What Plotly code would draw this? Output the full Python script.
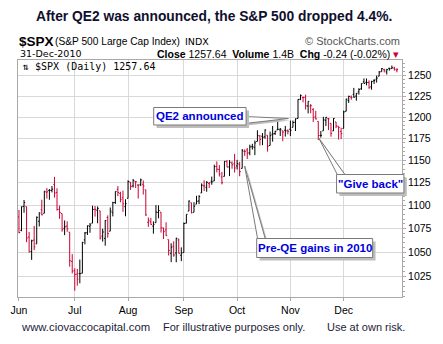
import plotly.graph_objects as go

# ---------------- data: S&P 500 daily OHLC, Jun-Dec 2010 ----------------
dates = (
    ["2010-06-%02d" % d for d in [1,2,3,4,7,8,9,10,11,14,15,16,17,18,21,22,23,24,25,28,29,30]] +
    ["2010-07-%02d" % d for d in [1,2,6,7,8,9,12,13,14,15,16,19,20,21,22,23,26,27,28,29,30]] +
    ["2010-08-%02d" % d for d in [2,3,4,5,6,9,10,11,12,13,16,17,18,19,20,23,24,25,26,27,30,31]] +
    ["2010-09-%02d" % d for d in [1,2,3,7,8,9,10,13,14,15,16,17,20,21,22,23,24,27,28,29,30]] +
    ["2010-10-%02d" % d for d in [1,4,5,6,7,8,11,12,13,14,15,18,19,20,21,22,25,26,27,28,29]] +
    ["2010-11-%02d" % d for d in [1,2,3,4,5,8,9,10,11,12,15,16,17,18,19,22,23,24,26,29,30]] +
    ["2010-12-%02d" % d for d in [1,2,3,6,7,8,9,10,13,14,15,16,17,20,21,22,23,27,28,29,30,31]]
)

opens = [
    1087.30,1073.01,1098.82,1098.43,1065.84,1050.81,1062.75,1058.77,1082.65,1095.00,1091.21,1114.02,1115.98,1116.16,1122.79,1113.90,1095.57,1090.93,1075.10,1077.50,1071.10,1040.56,
    1031.10,1027.65,1028.09,1028.54,1062.92,1070.50,1077.23,1080.65,1095.61,1094.46,1093.85,1066.85,1064.53,1086.67,1072.14,1092.17,1102.89,1117.36,1112.84,1108.07,1098.44,
    1107.53,1125.34,1121.06,1125.78,1122.07,1122.80,1122.92,1116.89,1081.48,1082.22,1077.49,1081.16,1092.08,1092.44,1075.63,1073.36,1063.20,1048.98,1056.28,1049.27,1062.90,1046.88,
    1049.72,1080.66,1093.61,1102.60,1092.36,1101.15,1104.57,1113.38,1121.16,1119.43,1123.89,1126.39,1126.57,1142.82,1139.49,1131.10,1131.69,1148.64,1142.31,1146.75,1145.97,
    1143.49,1144.96,1140.68,1159.81,1161.57,1158.36,1165.32,1164.28,1171.32,1177.82,1177.47,1176.83,1178.64,1166.74,1179.82,1180.52,1184.74,1184.88,1183.84,1184.47,1183.87,
    1185.71,1187.86,1193.79,1198.34,1221.20,1223.24,1223.59,1213.14,1213.04,1209.07,1200.44,1194.79,1178.33,1183.75,1196.12,1198.07,1192.51,1183.70,1194.16,1189.08,1182.96,
    1186.60,1206.81,1219.93,1223.87,1227.25,1225.02,1230.14,1233.85,1242.52,1241.84,1241.58,1236.34,1243.63,1245.76,1249.43,1254.94,1257.53,1254.66,1259.10,1258.78,1259.44,1256.76,
]
highs = [
    1094.77,1098.56,1105.67,1098.43,1071.36,1063.15,1077.74,1087.85,1092.25,1105.91,1115.59,1118.74,1117.72,1121.01,1131.23,1118.50,1099.64,1090.93,1083.56,1082.60,1071.10,1048.08,
    1033.58,1032.95,1042.50,1060.89,1071.25,1078.16,1080.78,1099.46,1099.08,1098.66,1093.85,1074.70,1083.94,1088.96,1097.50,1103.73,1115.01,1120.95,1114.66,1115.90,1106.44,
    1127.30,1125.44,1128.75,1126.56,1123.06,1129.24,1127.16,1116.89,1086.72,1086.25,1082.62,1100.14,1099.77,1092.44,1075.63,1081.58,1063.20,1059.38,1061.45,1065.21,1064.40,1055.14,
    1081.30,1090.10,1105.10,1102.60,1103.26,1110.27,1110.88,1123.87,1127.36,1126.46,1125.44,1131.47,1144.86,1148.59,1144.38,1136.77,1148.90,1149.92,1150.00,1148.63,1157.16,
    1150.30,1148.16,1162.76,1162.33,1163.87,1167.73,1168.68,1172.58,1184.38,1178.89,1181.20,1185.53,1178.64,1182.94,1189.43,1183.93,1196.14,1187.11,1183.84,1189.53,1185.46,
    1195.81,1195.88,1198.30,1221.25,1227.08,1224.57,1226.84,1218.75,1215.45,1210.50,1207.43,1194.79,1183.56,1200.29,1199.97,1198.94,1192.51,1198.62,1194.16,1189.08,1187.40,
    1207.61,1221.89,1225.57,1225.80,1235.05,1228.93,1234.71,1240.40,1246.73,1246.59,1244.25,1243.75,1245.81,1250.20,1255.82,1259.39,1258.59,1258.43,1259.90,1262.60,1261.09,1259.34,
]
lows = [
    1069.89,1072.03,1091.81,1060.50,1049.86,1042.17,1052.25,1058.77,1077.12,1089.03,1091.21,1107.13,1105.87,1113.93,1108.24,1094.18,1085.31,1071.60,1067.89,1071.45,1035.18,1028.33,
    1010.91,1015.93,1018.35,1028.54,1058.24,1068.10,1070.45,1080.65,1087.68,1080.53,1063.32,1061.11,1056.88,1065.25,1072.14,1087.88,1101.30,1109.78,1103.11,1092.82,1088.01,
    1107.53,1116.76,1119.46,1118.81,1107.17,1120.91,1111.58,1088.55,1076.69,1079.00,1069.49,1081.16,1085.76,1070.66,1063.91,1067.08,1046.68,1039.83,1045.40,1039.70,1048.79,1040.88,
    1049.72,1080.39,1093.61,1091.15,1092.36,1101.15,1101.15,1113.38,1115.58,1114.63,1118.88,1122.43,1126.57,1136.22,1131.58,1122.79,1131.69,1142.00,1132.09,1140.26,1136.08,
    1139.42,1131.87,1140.68,1154.85,1151.41,1155.58,1162.02,1155.71,1171.32,1166.71,1167.12,1174.55,1159.71,1166.74,1171.17,1178.99,1184.74,1177.72,1171.70,1177.10,1179.70,
    1177.65,1187.86,1183.56,1198.34,1220.29,1217.55,1208.94,1204.33,1204.49,1194.08,1197.15,1173.00,1175.82,1183.75,1189.44,1184.58,1176.91,1183.70,1186.93,1173.64,1174.14,
    1186.60,1206.81,1216.82,1220.67,1223.25,1219.50,1226.85,1232.58,1240.34,1238.17,1234.01,1232.85,1239.87,1241.51,1249.43,1254.94,1254.05,1251.48,1256.22,1258.78,1256.32,1254.19,
]
closes = [
    1070.71,1098.38,1102.83,1064.88,1050.47,1062.00,1055.69,1086.84,1091.60,1089.63,1115.23,1114.61,1116.04,1117.51,1113.20,1095.31,1092.04,1073.69,1076.76,1074.57,1041.24,1030.71,
    1027.37,1022.58,1028.06,1060.27,1070.25,1077.96,1078.75,1095.34,1095.17,1096.48,1064.88,1071.25,1083.48,1069.59,1093.67,1102.66,1115.01,1113.84,1106.13,1101.53,1101.60,
    1125.86,1120.46,1127.24,1125.81,1121.64,1127.79,1121.06,1089.47,1083.61,1079.25,1079.38,1092.54,1094.16,1075.63,1071.69,1067.36,1051.87,1055.33,1047.22,1064.59,1048.92,1049.33,
    1080.29,1090.10,1104.51,1091.84,1098.87,1104.18,1109.55,1121.90,1121.10,1125.07,1124.66,1125.59,1142.71,1139.78,1134.28,1124.83,1148.67,1142.16,1147.70,1144.73,1141.20,
    1146.24,1137.03,1160.75,1159.97,1158.06,1165.15,1165.32,1169.77,1178.10,1173.81,1176.19,1184.71,1165.90,1178.17,1180.26,1183.08,1185.62,1185.64,1182.45,1183.78,1183.26,
    1184.38,1193.57,1197.96,1221.06,1225.85,1223.25,1213.40,1218.71,1213.54,1199.21,1197.75,1178.34,1178.59,1196.69,1199.73,1197.84,1180.73,1198.35,1189.40,1187.76,1180.55,
    1206.07,1221.53,1224.71,1223.12,1223.75,1228.28,1233.00,1240.40,1240.46,1241.59,1235.23,1242.87,1243.91,1247.08,1254.60,1258.84,1256.77,1257.54,1258.51,1259.78,1257.88,1257.64,
]
prev_close = 1089.41  # close of 28-May-2010

month_labels = ["Jun", "Jul", "Aug", "Sep", "Oct", "Nov", "Dec"]
price_ticks = [1025, 1050, 1075, 1100, 1125, 1150, 1175, 1200, 1225, 1250]

# ---------------- styling / geometry ----------------
W, H = 443, 344
L, R, T, B = 11, 33, 60, 47
PL, PR, PT, PB = L, W - R, T, H - B

def px(X):
    return (X - PL) / (PR - PL)

def py(Y):
    return (PB - Y) / (PB - PT)

UP_COL = "#000000"
DN_COL = "#cc0033"
GRID = "#d9d9d9"
FRAME = "#a9a9a9"

idx = list(range(len(dates)))
pcs = [prev_close] + closes[:-1]
up = [i for i in idx if closes[i] >= pcs[i]]
dn = [i for i in idx if closes[i] < pcs[i]]

fig = go.Figure()
for sel, col in ((up, UP_COL), (dn, DN_COL)):
    fig.add_trace(go.Ohlc(
        x=sel,
        open=[opens[i] for i in sel],
        high=[highs[i] for i in sel],
        low=[lows[i] for i in sel],
        close=[closes[i] for i in sel],
        increasing=dict(line=dict(color=col, width=1)),
        decreasing=dict(line=dict(color=col, width=1)),
        tickwidth=0.45,
        showlegend=False,
        hoverinfo="skip",
    ))

# month-start indices for ticks
month_starts = []
seen = set()
for i, d in enumerate(dates):
    m = d[:7]
    if m not in seen:
        seen.add(m)
        month_starts.append(i)

shapes = []
annotations = []

def box(x0, y0, x1, y1, text):
    shapes.append(dict(type="rect", xref="paper", yref="paper",
                       x0=px(x0 + 3), x1=px(x1 + 3), y0=py(y1 + 3), y1=py(y0 + 3),
                       fillcolor="#bdbdbd", line=dict(width=0), layer="above"))
    shapes.append(dict(type="rect", xref="paper", yref="paper",
                       x0=px(x0), x1=px(x1), y0=py(y1), y1=py(y0),
                       fillcolor="white", line=dict(color="#7a7a7a", width=1), layer="above"))
    annotations.append(dict(xref="paper", yref="paper", x=px((x0 + x1) / 2), y=py((y0 + y1) / 2),
                            text="<b>%s</b>" % text, showarrow=False,
                            xanchor="center", yanchor="middle",
                            font=dict(family="Arial", size=11.5, color="#0000e0")))

def tail(p1, p2, tip):
    pts = [p1, tip, p2]
    def path(dx, dy):
        return "M %f,%f L %f,%f L %f,%f Z" % tuple(
            v for (X, Y) in pts for v in (px(X + dx), py(Y + dy)))
    shapes.append(dict(type="path", xref="paper", yref="paper", path=path(2, 2),
                       fillcolor="#bdbdbd", line=dict(width=0), layer="above"))
    shapes.append(dict(type="path", xref="paper", yref="paper", path=path(0, 0),
                       fillcolor="white", line=dict(color="#7a7a7a", width=1), layer="above"))

tail((247, 116.5), (247, 123.5), (292, 118.5))
tail((343, 175), (351, 175), (323.5, 138))
tail((260, 239), (268, 239), (246.5, 166))
box(152, 107.5, 248, 125, "QE2 announced")
box(342, 174.5, 412, 193, '"Give back"')
box(259, 238.5, 379.5, 257.5, "Pre-QE gains in 2010")

def txt(X, Y, text, size, anchor="left", family="Arial", color="#000000"):
    annotations.append(dict(xref="paper", yref="paper", x=px(X), y=py(Y), text=text,
                            showarrow=False, xanchor=anchor, yanchor="middle",
                            font=dict(family=family, size=size, color=color)))

txt(215, 16, "<b>After QE2 was announced, the S&P 500 dropped 4.4%.</b>", 13.8, "center",
    color="#10102e")
txt(10, 41, "<b>$SPX</b>", 13.5)
txt(47, 41.5, "(S&P 500 Large Cap Index)", 10.2)
txt(182, 41.5, "INDX", 9.5, family="DejaVu Sans")
txt(410, 41.5, "© StockCharts.com", 11, "right", color="#555555")
txt(11, 53.5, "31-Dec-2010", 9.5, family="DejaVu Sans")
txt(409, 53.5, "<b>Close</b> 1257.64  <b>Volume</b> 1.4B  <b>Chg</b> -0.24 (-0.02%) "
    "<span style='color:#cc0033'>▾</span>", 10.5, "right")
txt(13, 66.5, "⇅ $SPX (Daily) 1257.64", 10, family="DejaVu Sans Mono")
txt(12, 326.5, "www.ciovaccocapital.com", 11.3, color="#1c1c38")
txt(160, 326.5, "For illustrative purposes only.", 11, color="#1c1c38")
txt(330, 326.5, "Use at own risk.", 11, color="#1c1c38")

fig.update_layout(
    width=W, height=H,
    margin=dict(l=L, r=R, t=T, b=B),
    paper_bgcolor="white", plot_bgcolor="white",
    shapes=shapes, annotations=annotations,
    xaxis=dict(
        range=[-0.38, 151.0],
        tickvals=month_starts, ticktext=month_labels,
        ticks="outside", ticklen=3, tickcolor=FRAME,
        showgrid=True, gridcolor=GRID, gridwidth=1,
        showline=True, linecolor=FRAME, linewidth=1, mirror=True,
        zeroline=False, rangeslider=dict(visible=False),
        tickfont=dict(family="Arial", size=10.5, color="#000000"),
        fixedrange=True,
    ),
    yaxis=dict(
        type="log", side="right",
        range=[3.00202, 3.10364],
        tickvals=price_ticks, ticktext=[str(v) for v in price_ticks],
        ticks="outside", ticklen=3, tickcolor=FRAME,
        minor=dict(tickvals=[v for v in range(1005, 1270, 5) if v % 25], ticks="outside",
                   ticklen=2, tickcolor=FRAME, showgrid=False),
        showgrid=True, gridcolor=GRID, gridwidth=1,
        showline=True, linecolor=FRAME, linewidth=1, mirror=True,
        zeroline=False,
        tickfont=dict(family="Arial", size=10.5, color="#000000"),
        fixedrange=True,
    ),
)

fig.write_html("out.html")
